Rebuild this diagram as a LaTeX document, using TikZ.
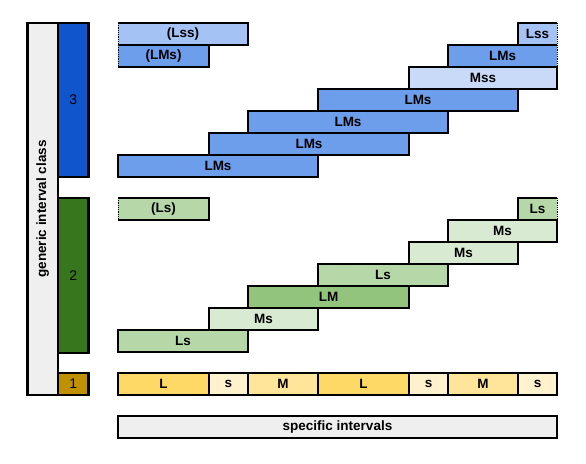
\documentclass[tikz,border=0pt]{standalone}
\usepackage{fontspec}
\setmainfont{Liberation Sans}
\usetikzlibrary{positioning}

\definecolor{classblue}{HTML}{1155CC}
\definecolor{barblue}{HTML}{6D9EEB}
\definecolor{barbluelt}{HTML}{A4C2F4}
\definecolor{barbluepale}{HTML}{C9DAF8}
\definecolor{classgreen}{HTML}{38761D}
\definecolor{bargreen}{HTML}{B6D7A8}
\definecolor{bargreenpale}{HTML}{D9EAD3}
\definecolor{bargreendk}{HTML}{93C47D}
\definecolor{classgold}{HTML}{BF9000}
\definecolor{stepL}{HTML}{FFD966}
\definecolor{stepM}{HTML}{FFE599}
\definecolor{stepS}{HTML}{FFF2CC}
\definecolor{panelgray}{HTML}{EFEFEF}

\begin{document}
\begin{tikzpicture}[
  x=1pt, y=-1pt,
  every node/.style={inner sep=0pt, outer sep=0pt, font=\bfseries\fontsize{13.5}{15}\selectfont},
  bar/.style={draw, line width=2.4pt, anchor=north west, minimum height=22pt},
  openbar/.style={bar, draw=none},
  classbox/.style={bar, minimum width=30.5pt, font=\fontsize{14}{16}\selectfont},
  edge/.style={line width=2.4pt},
  openedge/.style={densely dotted, line width=0.8pt}
]
\useasboundingbox (0,0) rectangle (586,463);

% left column
\node (generic) [bar, fill=panelgray, minimum width=30.5pt, minimum height=372pt] at (27.5,23) {};
\node (genericlabel) [rotate=90] at (generic.center) {generic interval class};
\node (class3) [classbox, fill=classblue, minimum height=154pt] at (58,23) {3};
\node (class2) [classbox, fill=classgreen, minimum height=155pt] at (58,198) {2};
\node (class1) [classbox, fill=classgold] at (58,373) {1};

% class 3
\node (l3a) [openbar, fill=barbluelt, minimum width=130pt] at (118,23) {(Lss)};
\node (l3b) [openbar, fill=barbluelt, minimum width=39pt] at (518,23) {Lss};
\node (l3c) [openbar, fill=barblue, minimum width=91pt] at (118,45) {(LMs)};
\node (l3d) [openbar, fill=barblue, minimum width=109pt] at (448,45) {LMs};
\node (l3e) [bar, fill=barbluepale, minimum width=148pt] at (409,67) {Mss};
\node (l3f) [bar, fill=barblue, minimum width=200pt] at (318,89) {LMs};
\node (l3g) [bar, fill=barblue, minimum width=200pt] at (248,111) {LMs};
\node (l3h) [bar, fill=barblue, minimum width=200pt] at (209,133) {LMs};
\node (l3i) [bar, fill=barblue, minimum width=200pt] at (118,155) {LMs};

\draw[edge] (l3a.north west) -| (l3a.south east) -- (l3a.south west);
\draw[openedge] (l3a.north west) -- (l3a.south west);
\draw[edge] (l3b.north east) -- (l3b.north west) |- (l3b.south east);
\draw[openedge] (l3b.north east) -- (l3b.south east);
\draw[edge] (l3c.north west) -| (l3c.south east) -- (l3c.south west);
\draw[openedge] (l3c.north west) -- (l3c.south west);
\draw[edge] (l3d.north east) -- (l3d.north west) |- (l3d.south east);
\draw[openedge] (l3d.north east) -- (l3d.south east);

% class 2
\node (l2a) [openbar, fill=bargreen, minimum width=91pt] at (118,198) {(Ls)};
\node (l2b) [openbar, fill=bargreen, minimum width=39pt] at (518,198) {Ls};
\node (l2c) [bar, fill=bargreenpale, minimum width=109pt] at (448,220) {Ms};
\node (l2d) [bar, fill=bargreenpale, minimum width=109pt] at (409,242) {Ms};
\node (l2e) [bar, fill=bargreen, minimum width=130pt] at (318,264) {Ls};
\node (l2f) [bar, fill=bargreendk, minimum width=161pt] at (248,286) {LM};
\node (l2g) [bar, fill=bargreenpale, minimum width=109pt] at (209,308) {Ms};
\node (l2h) [bar, fill=bargreen, minimum width=130pt] at (118,330) {Ls};

\draw[edge] (l2a.north west) -| (l2a.south east) -- (l2a.south west);
\draw[openedge] (l2a.north west) -- (l2a.south west);
\draw[edge] (l2b.north east) -- (l2b.north west) |- (l2b.south east);
\draw[openedge] (l2b.north east) -- (l2b.south east);

% class 1
\node (s1) [bar, fill=stepL, minimum width=91pt] at (118,373) {L};
\node (s2) [bar, fill=stepS, minimum width=39pt, right=0pt of s1] {s};
\node (s3) [bar, fill=stepM, minimum width=70pt, right=0pt of s2] {M};
\node (s4) [bar, fill=stepL, minimum width=91pt, right=0pt of s3] {L};
\node (s5) [bar, fill=stepS, minimum width=39pt, right=0pt of s4] {s};
\node (s6) [bar, fill=stepM, minimum width=70pt, right=0pt of s5] {M};
\node (s7) [bar, fill=stepS, minimum width=39pt, right=0pt of s6] {s};

\node (specific) [bar, fill=panelgray, minimum width=439pt] at (118,416) {specific intervals};
\end{tikzpicture}
\end{document}
